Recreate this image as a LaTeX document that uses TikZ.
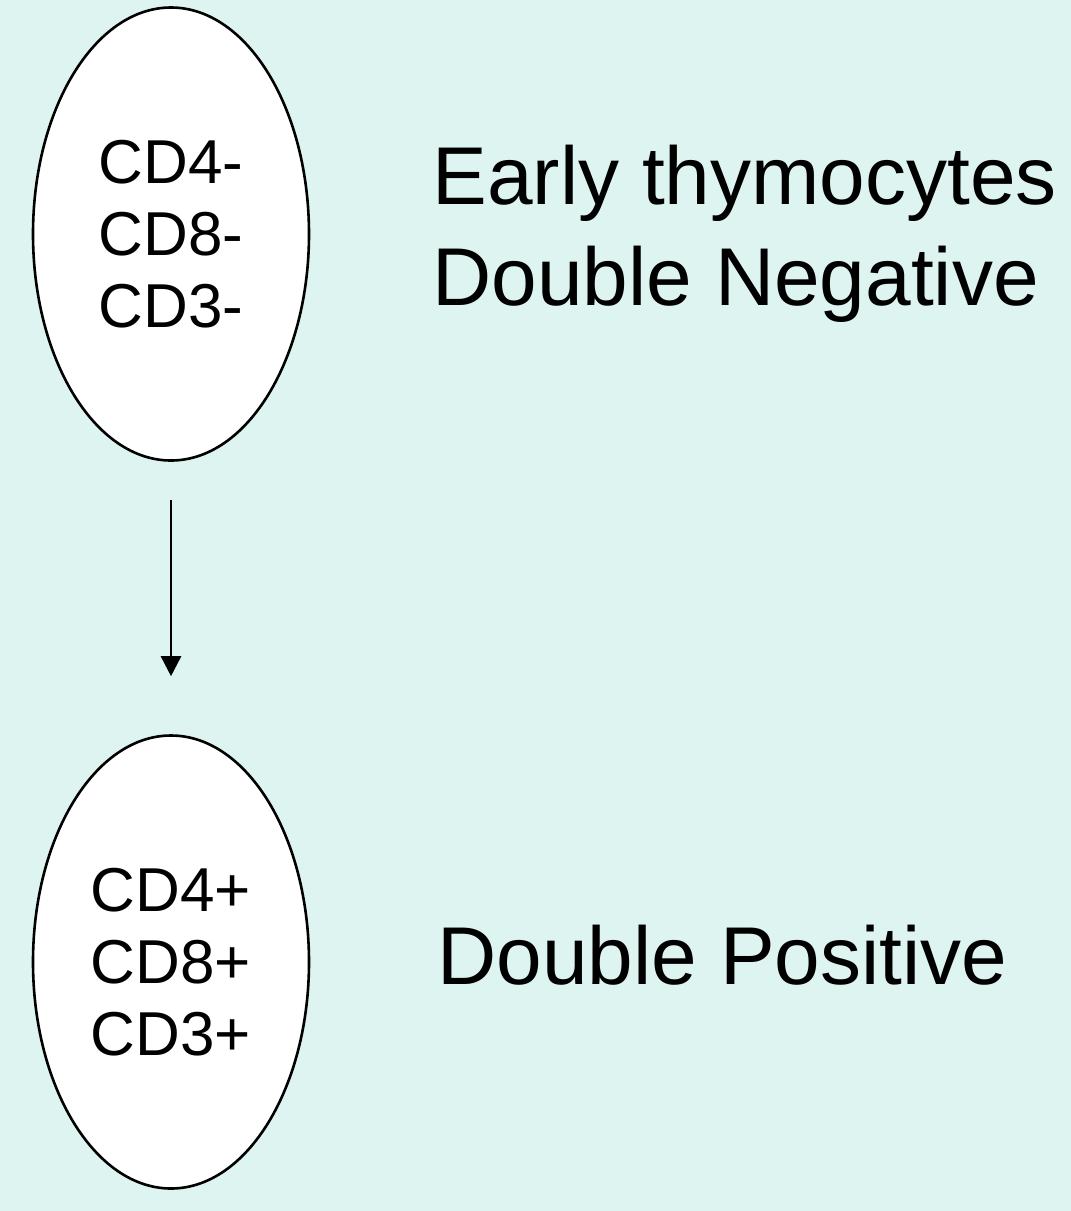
\documentclass[tikz,border=0pt]{standalone}
\usepackage{fontspec}
\setmainfont{Liberation Sans}
\usepackage{tikz}
\usetikzlibrary{shapes}
\usetikzlibrary{positioning}
\usetikzlibrary{arrows.meta}
\definecolor{slidebg}{RGB}{221,244,240}

\begin{document}
\begin{tikzpicture}[x=1pt,y=-1pt,line width=2.6pt,
    cell/.style={draw,fill=white,ellipse,inner sep=0pt,minimum width=276pt,
      minimum height=453pt,align=center,font=\fontsize{62}{72}\selectfont},
    stage/.style={inner sep=0pt,align=left,font=\fontsize{82}{101}\selectfont}]
      \fill[slidebg] (0,0) rectangle (1071,1211);
      \useasboundingbox (0,0) rectangle (1071,1211);
      \node[cell] (dn) at (171,234)   {CD4-\\CD8-\\CD3-};
      \node[cell] (dp) at (171,962)   {CD4+\\CD8+\\CD3+};
      \node[stage] (dnlabel) [right=121pt of dn]  {Early thymocytes\\Double Negative};
      \node[stage] (dplabel) [right=126pt of dp, yshift=7pt]  {Double Positive};
      \path[-{Triangle[length=20pt,width=20pt]}] (dn) edge [shorten <=38pt, shorten >=58pt] (dp);
    \end{tikzpicture}
\end{document}
